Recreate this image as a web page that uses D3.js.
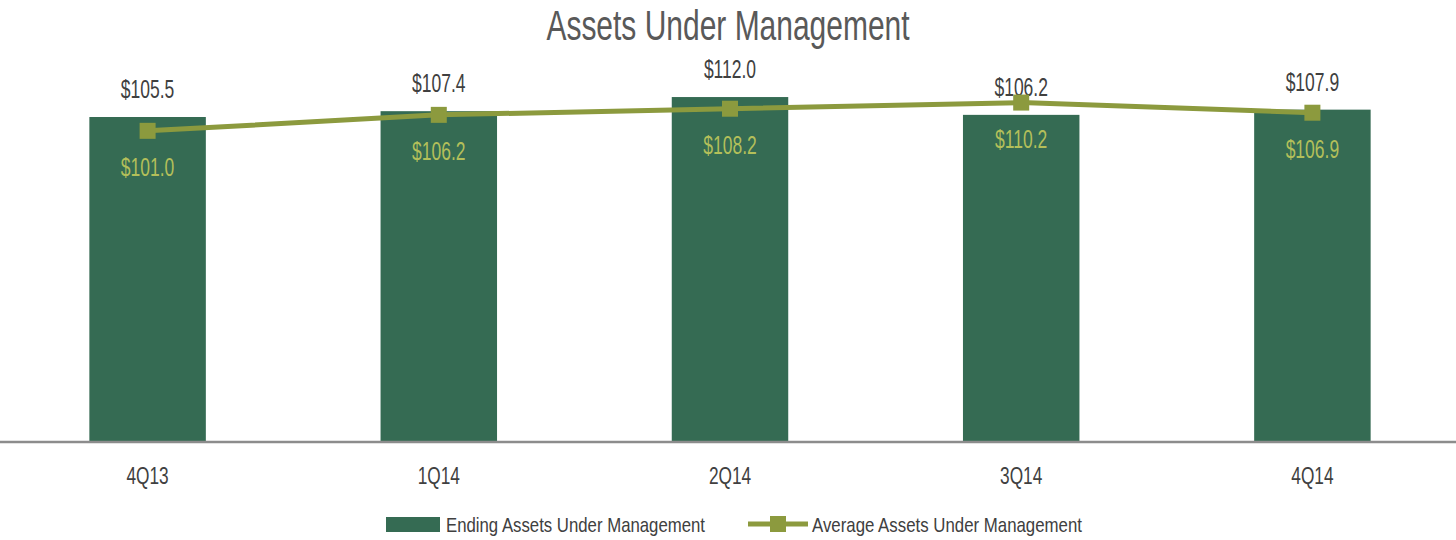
<!DOCTYPE html>
<html>
<head>
<meta charset="utf-8">
<script src="https://cdn.jsdelivr.net/npm/d3@7"></script>
<style>
  body { margin: 0; background: #fff; }
  svg text { font-family: "Liberation Sans", Arial, sans-serif; }
</style>
</head>
<body>
<div id="graphicContainer"></div>
<script>
var quarters = ["4Q13", "1Q14", "2Q14", "3Q14", "4Q14"];
var endingAum = [105.5, 107.4, 112.0, 106.2, 107.9];
var averageAum = [101.0, 106.2, 108.2, 110.2, 106.9];
var seriesNames = ["Ending Assets Under Management", "Average Assets Under Management"];

var width = 1456, height = 540;
var barColor = "#356b53", lineColor = "#8c9a3e", lineLabel = "#b3bf5a";

// the original uses a condensed face; squeeze the text to match
function condense(sel, f) {
    sel.each(function() {
        var w = this.getComputedTextLength();
        d3.select(this).attr("textLength", w * f).attr("lengthAdjust", "spacingAndGlyphs");
    });
}

var svg = d3.select("#graphicContainer").append("svg")
    .attr("width", width)
    .attr("height", height);

svg.append("text")
    .attr("x", 728)
    .attr("y", 40)
    .attr("text-anchor", "middle")
    .attr("fill", "#595959")
    .attr("font-size", 43)
    .text("Assets Under Management")
    .call(condense, 0.697);

var x = d3.scaleBand()
    .domain(quarters)
    .range([2, 1458])
    .paddingInner(0.6)
    .paddingOuter(0.3);

var y = d3.scaleLinear()
    .domain([0, 120])
    .range([441, 441 - 120 * 3.071]);

// bars
svg.append("g")
    .selectAll("rect")
    .data(endingAum)
    .enter()
    .append("rect")
    .attr("x", (d, i) => x(quarters[i]))
    .attr("width", x.bandwidth())
    .attr("y", d => y(d))
    .attr("height", d => y(0) - y(d))
    .attr("fill", barColor);

svg.append("g")
    .selectAll("text")
    .data(endingAum)
    .enter()
    .append("text")
    .attr("x", (d, i) => x(quarters[i]) + x.bandwidth() / 2)
    .attr("y", d => y(d) - 19)
    .attr("text-anchor", "middle")
    .attr("font-size", 26.5)
    .attr("fill", "#404040")
    .text(d => "$" + d.toFixed(1))
    .call(condense, 0.66);

// axis line
var xAxis = svg.append("g")
    .attr("transform", "translate(0," + 442 + ")")
    .call(d3.axisBottom(x).tickSize(0).tickPadding(26));
xAxis.select(".domain").attr("d", "M0,0H" + width).attr("stroke", "#8c8c8c").attr("stroke-width", 2.5);
xAxis.selectAll("text")
    .attr("font-size", 23)
    .attr("fill", "#404040")
    .attr("font-family", "Liberation Sans, Arial, sans-serif")
    .call(condense, 0.75);

// line
var line = d3.line()
    .x((d, i) => x(quarters[i]) + x.bandwidth() / 2)
    .y(d => y(d));

svg.append("path")
    .datum(averageAum)
    .attr("d", line)
    .attr("fill", "none")
    .attr("stroke", lineColor)
    .attr("stroke-width", 5);

svg.append("g")
    .selectAll("rect")
    .data(averageAum)
    .enter()
    .append("rect")
    .attr("x", (d, i) => x(quarters[i]) + x.bandwidth() / 2 - 8)
    .attr("y", d => y(d) - 8)
    .attr("width", 16)
    .attr("height", 16)
    .attr("fill", lineColor);

svg.append("g")
    .selectAll("text")
    .data(averageAum)
    .enter()
    .append("text")
    .attr("x", (d, i) => x(quarters[i]) + x.bandwidth() / 2)
    .attr("y", d => y(d) + 45)
    .attr("text-anchor", "middle")
    .attr("font-size", 26.5)
    .attr("fill", lineLabel)
    .text(d => "$" + d.toFixed(1))
    .call(condense, 0.66);

// legend
var legend = svg.append("g");
legend.append("rect")
    .attr("x", 386).attr("y", 517)
    .attr("width", 54).attr("height", 15)
    .attr("fill", barColor);
legend.append("text")
    .attr("x", 446).attr("y", 532)
    .attr("font-size", 21)
    .attr("fill", "#404040")
    .text(seriesNames[0])
    .attr("textLength", 259).attr("lengthAdjust", "spacingAndGlyphs");
legend.append("line")
    .attr("x1", 748).attr("x2", 808)
    .attr("y1", 524).attr("y2", 524)
    .attr("stroke", lineColor).attr("stroke-width", 5);
legend.append("rect")
    .attr("x", 770).attr("y", 516)
    .attr("width", 16).attr("height", 16)
    .attr("fill", lineColor);
legend.append("text")
    .attr("x", 812).attr("y", 532)
    .attr("font-size", 21)
    .attr("fill", "#404040")
    .text(seriesNames[1])
    .attr("textLength", 270).attr("lengthAdjust", "spacingAndGlyphs");
</script>
</body>
</html>
